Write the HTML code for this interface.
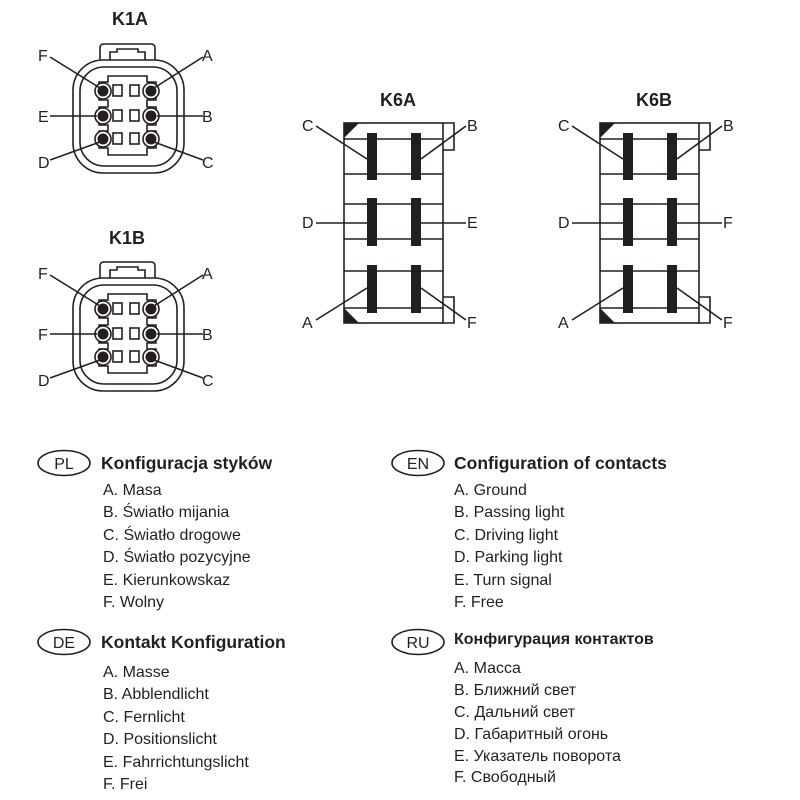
<!DOCTYPE html>
<html><head><meta charset="utf-8"><style>
html,body{margin:0;padding:0;background:#fff}
svg{display:block}
text{font-family:"Liberation Sans",sans-serif;fill:#231f20}
.t{font-weight:bold;font-size:18px}
.l{font-size:16px}
.h{font-size:17.5px;font-weight:bold}
.i{font-size:16px}
</style></head><body>
<svg width="800" height="800" viewBox="0 0 800 800" xmlns="http://www.w3.org/2000/svg">
<defs>
<g id="k1" stroke="#231f20" stroke-width="1.6" fill="none">
  <path d="M100,60 V48 Q100,44 104,44 H151 Q155,44 155,48 V60"/>
  <path d="M110,60 V52 H117 V49 H138 V52 H145 V60"/>
  <rect x="73" y="60" width="111" height="113" rx="30"/>
  <rect x="80" y="67" width="97" height="99" rx="24"/>
  <path d="M108,76 H147 V82 H156 V100 H147 V107 H156 V125 H147 V131 H156 V148 H147 V155 H108 V148 H99 V131 H108 V125 H99 V107 H108 V100 H99 V82 H108 Z" fill="#fff"/>
  <g fill="#fff">
   <rect x="113" y="85" width="9" height="11"/><rect x="130" y="85" width="9" height="11"/>
   <rect x="113" y="110" width="9" height="11"/><rect x="130" y="110" width="9" height="11"/>
   <rect x="113" y="133" width="9" height="11"/><rect x="130" y="133" width="9" height="11"/>
   <circle cx="103" cy="91" r="8"/><circle cx="151" cy="91" r="8"/>
   <circle cx="103" cy="116" r="8"/><circle cx="151" cy="116" r="8"/>
   <circle cx="103" cy="139" r="8"/><circle cx="151" cy="139" r="8"/>
  </g>
  <g fill="#231f20" stroke="none">
   <circle cx="103" cy="91" r="5.5"/><circle cx="151" cy="91" r="5.5"/>
   <circle cx="103" cy="116" r="5.5"/><circle cx="151" cy="116" r="5.5"/>
   <circle cx="103" cy="139" r="5.5"/><circle cx="151" cy="139" r="5.5"/>
  </g>
  <line x1="50" y1="57" x2="100" y2="88"/>
  <line x1="203" y1="57" x2="154" y2="88"/>
  <line x1="50" y1="116" x2="97" y2="116"/>
  <line x1="203" y1="116" x2="157" y2="116"/>
  <line x1="50" y1="160" x2="100" y2="142"/>
  <line x1="203" y1="160" x2="154" y2="142"/>
</g>
<g id="k6" stroke="#231f20" stroke-width="1.6" fill="none">
  <rect x="344" y="123" width="99" height="200"/>
  <path d="M443,123 H454 V150 H443"/>
  <path d="M443,297 H454 V323 H443"/>
  <path d="M344,123 H359 L344,138 Z" fill="#231f20" stroke="none"/>
  <path d="M344,323 H359 L344,308 Z" fill="#231f20" stroke="none"/>
  <line x1="344" y1="139" x2="443" y2="139"/><line x1="344" y1="174" x2="443" y2="174"/>
  <line x1="344" y1="204" x2="443" y2="204"/><line x1="344" y1="239" x2="443" y2="239"/>
  <line x1="344" y1="271" x2="443" y2="271"/><line x1="344" y1="308" x2="443" y2="308"/>
  <g fill="#231f20" stroke="none">
   <rect x="367" y="133" width="10" height="47"/><rect x="411" y="133" width="10" height="47"/>
   <rect x="367" y="198" width="10" height="48"/><rect x="411" y="198" width="10" height="48"/>
   <rect x="367" y="265" width="10" height="48"/><rect x="411" y="265" width="10" height="48"/>
  </g>
  <line x1="316" y1="126" x2="367" y2="159"/>
  <line x1="466" y1="126" x2="421" y2="159"/>
  <line x1="316" y1="223" x2="367" y2="223"/>
  <line x1="466" y1="223" x2="421" y2="223"/>
  <line x1="316" y1="320" x2="367" y2="288"/>
  <line x1="466" y1="320" x2="421" y2="288"/>
</g>
</defs>

<text class="t" x="130" y="25" text-anchor="middle">K1A</text>
<use href="#k1"/>
<g class="l"><text x="38" y="61">F</text><text x="202" y="61">A</text><text x="38" y="122">E</text><text x="202" y="122">B</text><text x="38" y="168">D</text><text x="202" y="168">C</text></g>

<text class="t" x="127" y="244" text-anchor="middle">K1B</text>
<use href="#k1" transform="translate(0,218)"/>
<g class="l"><text x="38" y="279">F</text><text x="202" y="279">A</text><text x="38" y="340">F</text><text x="202" y="340">B</text><text x="38" y="386">D</text><text x="202" y="386">C</text></g>

<text class="t" x="398" y="106" text-anchor="middle">K6A</text>
<use href="#k6"/>
<g class="l"><text x="302" y="131">C</text><text x="467" y="131">B</text><text x="302" y="228">D</text><text x="467" y="228">E</text><text x="302" y="328">A</text><text x="467" y="328">F</text></g>

<text class="t" x="654" y="106" text-anchor="middle">K6B</text>
<use href="#k6" transform="translate(256,0)"/>
<g class="l"><text x="558" y="131">C</text><text x="723" y="131">B</text><text x="558" y="228">D</text><text x="723" y="228">F</text><text x="558" y="328">A</text><text x="723" y="328">F</text></g>

<g fill="none" stroke="#231f20" stroke-width="1.6">
 <ellipse cx="64" cy="463" rx="26" ry="12.5"/>
 <ellipse cx="418" cy="463" rx="26" ry="12.5"/>
 <ellipse cx="64" cy="642" rx="26" ry="12.5"/>
 <ellipse cx="418" cy="642" rx="26" ry="12.5"/>
</g>
<g class="l" text-anchor="middle"><text x="64" y="469">PL</text><text x="418" y="469">EN</text><text x="64" y="648">DE</text><text x="418" y="648">RU</text></g>

<text class="h" x="101" y="469">Konfiguracja styków</text>
<g class="i"><text x="103" y="495">A. Masa</text><text x="103" y="517">B. Światło mijania</text><text x="103" y="540">C. Światło drogowe</text><text x="103" y="562">D. Światło pozycyjne</text><text x="103" y="585">E. Kierunkowskaz</text><text x="103" y="607">F. Wolny</text></g>

<text class="h" x="454" y="469">Configuration of contacts</text>
<g class="i"><text x="454" y="495">A. Ground</text><text x="454" y="517">B. Passing light</text><text x="454" y="540">C. Driving light</text><text x="454" y="562">D. Parking light</text><text x="454" y="585">E. Turn signal</text><text x="454" y="607">F. Free</text></g>

<text class="h" x="101" y="648">Kontakt Konfiguration</text>
<g class="i"><text x="103" y="677">A. Masse</text><text x="103" y="699">B. Abblendlicht</text><text x="103" y="722">C. Fernlicht</text><text x="103" y="744">D. Positionslicht</text><text x="103" y="767">E. Fahrrichtungslicht</text><text x="103" y="789">F. Frei</text></g>

<text class="h" x="454" y="644" style="font-size:16px">Конфигурация контактов</text>
<g class="i"><text x="454" y="673">A. Масса</text><text x="454" y="695">B. Ближний свет</text><text x="454" y="717">C. Дальний свет</text><text x="454" y="739">D. Габаритный огонь</text><text x="454" y="761">E. Указатель поворота</text><text x="454" y="782">F. Свободный</text></g>
</svg>
</body></html>
